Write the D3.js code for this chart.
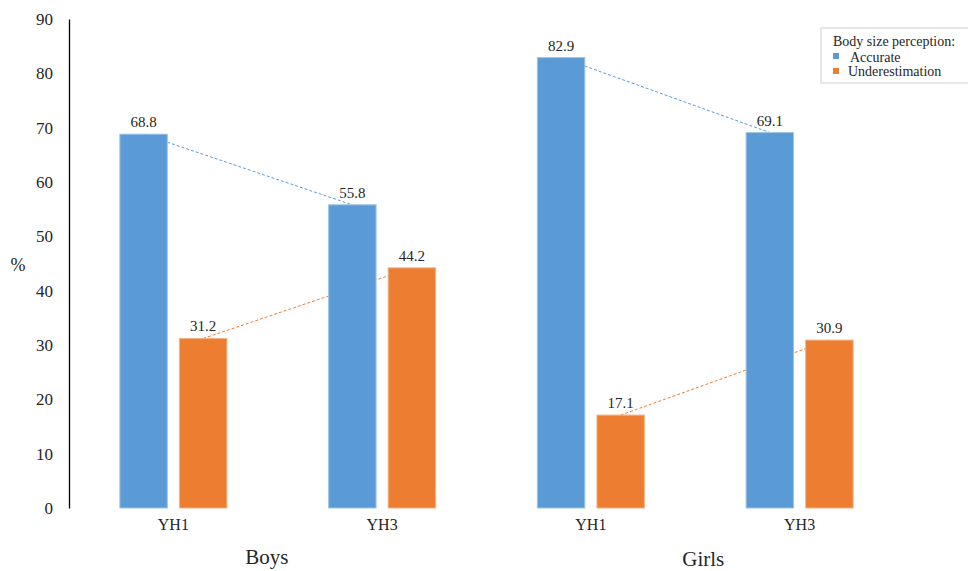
<!DOCTYPE html>
<html>
<head>
<meta charset="utf-8">
<script src="https://cdn.jsdelivr.net/npm/d3@7"></script>
<style>
  body { margin: 0; background: #fff; }
  svg text { font-family: 'Liberation Serif', 'Times New Roman', serif !important; fill: #262626; }
</style>
</head>
<body>
<div id="chart"></div>
<script>
const groups = ['Boys', 'Girls'];
const waves = ['YH1', 'YH3'];
const seriesNames = ['Accurate', 'Underestimation'];
const accurate = [68.8, 55.8, 82.9, 69.1];
const underestimation = [31.2, 44.2, 17.1, 30.9];
const yTicks = [0, 10, 20, 30, 40, 50, 60, 70, 80, 90];
const colors = ['#5b9bd5', '#ed7d31'];
const edgeColors = ['#9dc3e6', '#f4b183'];

const width = 968;
const height = 571;

const svg = d3.select('#chart')
  .append('svg')
  .attr('width', width)
  .attr('height', height)
  .attr('font-family', "'Liberation Serif', serif");

// one slot per group/wave pair
const cats = [];
groups.forEach(g => waves.forEach(w => cats.push(g + '|' + w)));

const x = d3.scaleBand().domain(cats).range([69, 904]).padding(0);
const xInner = d3.scaleBand().domain(seriesNames).range([-53.5, 53.5]).paddingInner(12 / 59);
const y = d3.scaleLinear().domain([0, 90]).range([508, 19]);

const series = seriesNames.map((name, i) => ({
  name: name,
  color: colors[i],
  edge: edgeColors[i],
  values: (i === 0 ? accurate : underestimation).map((v, j) => ({ cat: cats[j], value: v, group: j < 2 ? 0 : 1 }))
}));

// y axis
const yAxis = d3.axisLeft(y).tickValues(yTicks).tickSize(0).tickPadding(16);
svg.append('g')
  .attr('transform', 'translate(69,0)')
  .call(yAxis)
  .attr('font-family', null)
  .call(g => g.select('.domain').attr('stroke', '#000').attr('stroke-width', 1.3))
  .call(g => g.selectAll('.tick text')
    .style('font-size', '17px')
    .attr('fill', '#262626'));

svg.append('text')
  .attr('x', 18)
  .attr('y', 271)
  .attr('text-anchor', 'middle')
  .style('font-size', '18px')
  .text('%');

// dashed trend lines, one per series within each group (drawn under bars)
const barCenter = (d, s) => x(d.cat) + x.bandwidth() / 2 + xInner(s.name) + xInner.bandwidth() / 2;

series.forEach(s => {
  [0, 1].forEach(gi => {
    const pts = s.values.filter(d => d.group === gi);
    svg.append('path')
      .attr('d', d3.line().x(d => barCenter(d, s)).y(d => y(d.value))(pts))
      .attr('fill', 'none')
      .attr('stroke', s.color)
      .attr('stroke-width', 1)
      .attr('stroke-dasharray', '3,2');
  });
});

// bars
series.forEach(s => {
  svg.append('g')
    .selectAll('rect')
    .data(s.values)
    .enter()
    .append('rect')
    .attr('x', d => barCenter(d, s) - xInner.bandwidth() / 2)
    .attr('y', d => y(d.value))
    .attr('width', xInner.bandwidth())
    .attr('height', d => y(0) - y(d.value))
    .attr('fill', s.color)
    .attr('stroke', s.edge)
    .attr('stroke-width', 1);

  svg.append('g')
    .selectAll('text')
    .data(s.values)
    .enter()
    .append('text')
    .attr('x', d => barCenter(d, s))
    .attr('y', d => y(d.value) - 7)
    .attr('text-anchor', 'middle')
    .style('font-size', '15px')
    .text(d => d.value.toFixed(1));
});

// wave labels
svg.append('g')
  .selectAll('text')
  .data(cats)
  .enter()
  .append('text')
  .attr('x', d => x(d) + x.bandwidth() / 2)
  .attr('y', 530)
  .attr('text-anchor', 'middle')
  .style('font-size', '16px')
  .text(d => d.split('|')[1]);

// group labels
const groupDx = [-11, 8];
const groupY = [564, 566];
svg.append('g')
  .selectAll('text')
  .data(groups)
  .enter()
  .append('text')
  .attr('x', (d, i) => x(d + '|' + waves[0]) + x.bandwidth() + groupDx[i])
  .attr('y', (d, i) => groupY[i])
  .attr('text-anchor', 'middle')
  .style('font-size', '21px')
  .text(d => d);

// legend
const legend = svg.append('g').attr('transform', 'translate(821,28)');
legend.append('rect')
  .attr('width', 150)
  .attr('height', 55)
  .attr('fill', '#fff')
  .attr('stroke', '#d0d0d0');
legend.append('text')
  .attr('x', 12)
  .attr('y', 18)
  .style('font-size', '14px')
  .text('Body size perception:');
series.forEach((s, i) => {
  legend.append('rect')
    .attr('x', 12)
    .attr('y', 25 + i * 15)
    .attr('width', 6)
    .attr('height', 6)
    .attr('fill', s.color);
  legend.append('text')
    .attr('x', i === 0 ? 29 : 27)
    .attr('y', 34 + i * 14)
    .style('font-size', '14px')
    .text(s.name);
});
</script>
</body>
</html>
